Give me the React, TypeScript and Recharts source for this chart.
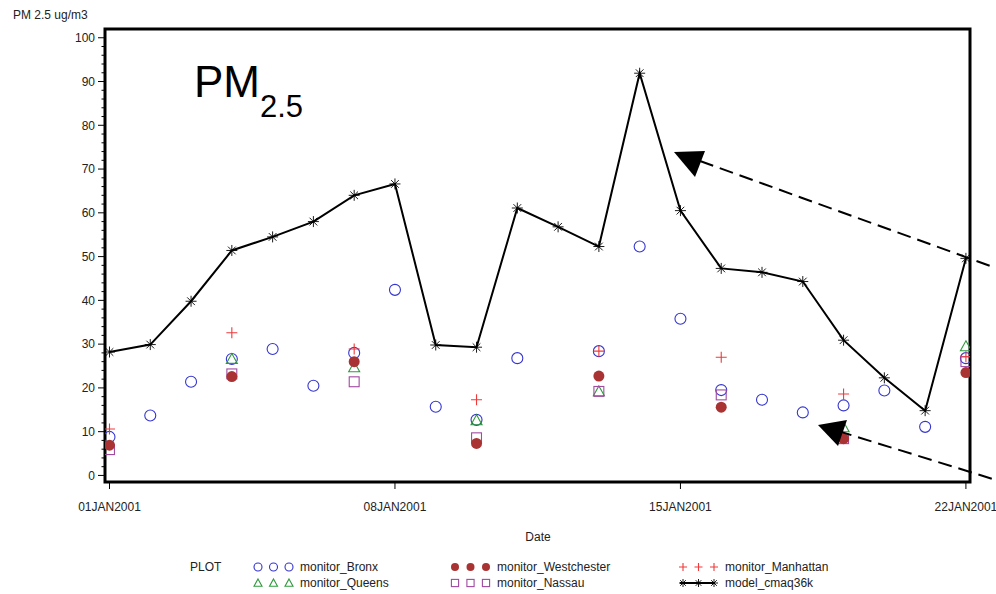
import React from 'react';
import {
  ComposedChart,
  Line,
  Scatter,
  XAxis,
  YAxis,
  ReferenceArea,
} from 'recharts';

// days of January 2001
const days = [1, 2, 3, 4, 5, 6, 7, 8, 9, 10, 11, 12, 13, 14, 15, 16, 17, 18, 19, 20, 21, 22];

const modelCmaq36k = [
  28.2, 29.9, 39.8, 51.4, 54.5, 58, 64, 66.6, 29.8, 29.3, 61.1,
  56.8, 52.3, 91.9, 60.5, 47.3, 46.4, 44.3, 30.9, 22.3, 14.8, 49.6,
];

const monitorBronx = [
  8.8, 13.7, 21.4, 26.6, 28.9, 20.5, 28, 42.4, 15.7, 12.7, 26.8,
  null, 28.4, 52.3, 35.8, 19.5, 17.3, 14.4, 16, 19.4, 11.1, 26.8,
];

// the other monitors report every third day
const monitorDays = [1, 4, 7, 10, 13, 16, 19, 22];
const monitorWestchester = [6.9, 22.6, 26, 7.3, 22.7, 15.6, 8.4, 23.5];
const monitorManhattan = [10.6, 32.6, 28.9, 17.3, 28.4, 27, 18.6, 27.1];
const monitorQueens = [null, 26.6, 24.7, 12.6, 19.2, null, 11, 29.5];
const monitorNassau = [5.9, 23.2, 21.4, 8.6, 19.2, 18.4, 8.4, 26];

const dateTicks = [1, 8, 15, 22];
const dateLabels = ['01JAN2001', '08JAN2001', '15JAN2001', '22JAN2001'];
const pmMajorTicks = [0, 10, 20, 30, 40, 50, 60, 70, 80, 90, 100];
const pmTicks = pmMajorTicks.flatMap((v) => (v < 100 ? [v, v + 2, v + 4, v + 6, v + 8] : [v]));

const X_DOMAIN: [number, number] = [0.89, 22.1];
const Y_DOMAIN: [number, number] = [-1.5, 102];

const FONT = '"Liberation Sans", Arial, Helvetica, sans-serif';
const BLUE = '#3535d0';
const GREEN = '#2f9a3c';
const DARKRED = '#a93333';
const RED = '#f03a3a';
const PURPLE = '#a04aa0';

const toPoints = (xs: number[], ys: (number | null)[]) =>
  xs
    .map((day, i) => ({ day, pm: ys[i] }))
    .filter((p) => p.pm !== null);

const modelData = toPoints(days, modelCmaq36k);
const bronxData = toPoints(days, monitorBronx);
const westchesterData = toPoints(monitorDays, monitorWestchester);
const manhattanData = toPoints(monitorDays, monitorManhattan);
const queensData = toPoints(monitorDays, monitorQueens);
const nassauData = toPoints(monitorDays, monitorNassau);

type Mark = 'circle' | 'dot' | 'plus' | 'triangle' | 'square' | 'star';

function Marker({ kind, cx, cy, color, s = 5.5 }: { kind: Mark; cx: number; cy: number; color: string; s?: number }) {
  switch (kind) {
    case 'circle':
      return <circle cx={cx} cy={cy} r={s} fill="none" stroke={color} strokeWidth={1.1} />;
    case 'dot':
      return <circle cx={cx} cy={cy} r={s} fill={color} stroke="none" />;
    case 'plus':
      return (
        <path
          d={`M${cx - s},${cy}H${cx + s}M${cx},${cy - s}V${cy + s}`}
          stroke={color}
          strokeWidth={1.1}
          fill="none"
        />
      );
    case 'triangle':
      return (
        <path
          d={`M${cx},${cy - s}L${cx + s},${cy + s * 0.8}L${cx - s},${cy + s * 0.8}Z`}
          stroke={color}
          strokeWidth={1.1}
          fill="none"
        />
      );
    case 'square':
      return (
        <rect x={cx - s * 0.9} y={cy - s * 0.9} width={s * 1.8} height={s * 1.8} stroke={color} strokeWidth={1.1} fill="none" />
      );
    default: {
      const d = s * 0.7;
      return (
        <path
          d={`M${cx},${cy - s}V${cy + s}M${cx - d},${cy - d}L${cx + d},${cy + d}M${cx + d},${cy - d}L${cx - d},${cy + d}M${cx - s},${cy}H${cx + s}`}
          stroke={color}
          strokeWidth={0.9}
          fill="none"
        />
      );
    }
  }
}

const shapeOf = (kind: Mark, color: string) => (props: any) =>
  <Marker kind={kind} cx={props.cx} cy={props.cy} color={color} />;

function PmTick({ x, y, payload }: any) {
  const major = payload.value % 10 === 0;
  return (
    <g>
      <line x1={x - (major ? 7 : 3.5)} x2={x} y1={y} y2={y} stroke="#000" strokeWidth={1} />
      {major && (
        <text x={x - 10} y={y} dy="0.36em" textAnchor="end" fontSize={12} fontFamily={FONT} fill="#222">
          {payload.value}
        </text>
      )}
    </g>
  );
}

const legendRows = [
  [
    { kind: 'circle' as Mark, color: BLUE, label: 'monitor_Bronx', x: 258 },
    { kind: 'dot' as Mark, color: DARKRED, label: 'monitor_Westchester', x: 455 },
    { kind: 'plus' as Mark, color: RED, label: 'monitor_Manhattan', x: 683 },
  ],
  [
    { kind: 'triangle' as Mark, color: GREEN, label: 'monitor_Queens', x: 258 },
    { kind: 'square' as Mark, color: PURPLE, label: 'monitor_Nassau', x: 455 },
    { kind: 'star' as Mark, color: '#000', label: 'model_cmaq36k', x: 683 },
  ],
];

function Overlay() {
  const rowY = [567, 583];
  return (
    <svg width={996} height={594} style={{ position: 'absolute', left: 0, top: 0, pointerEvents: 'none' }}>
      <text x={13} y={19} fontSize={12} fontFamily={FONT} fill="#222">PM 2.5 ug/m3</text>
      <text x={194} y={97} fontSize={44} fontFamily={FONT} fill="#000">
        PM<tspan fontSize={31} dy={20}>2.5</tspan>
      </text>
      <text x={538} y={541} fontSize={12} fontFamily={FONT} fill="#222" textAnchor="middle">Date</text>

      <text x={190} y={rowY[0] + 4} fontSize={12} fontFamily={FONT} fill="#222">PLOT</text>
      {legendRows.map((row, r) =>
        row.map((item) => (
          <g key={item.label}>
            {item.kind === 'star' && (
              <line x1={item.x - 3} x2={item.x + 32} y1={rowY[r]} y2={rowY[r]} stroke="#000" strokeWidth={2} />
            )}
            {[0, 15.5, 31].map((dx) => (
              <Marker key={dx} kind={item.kind} cx={item.x + dx} cy={rowY[r]} color={item.color} s={4} />
            ))}
            <text x={item.x + 42} y={rowY[r] + 4} fontSize={12} fontFamily={FONT} fill="#222">
              {item.label}
            </text>
          </g>
        )),
      )}

      <line x1={700} y1={161} x2={996} y2={268} stroke="#000" strokeWidth={2} strokeDasharray="14 7" />
      <path d="M674,152L705,151L695,177Z" fill="#000" />
      <line x1={838} y1={431} x2={996} y2={480} stroke="#000" strokeWidth={2} strokeDasharray="14 7" />
      <path d="M818,425L847,420L838,446Z" fill="#000" />
    </svg>
  );
}

export default function App() {
  return (
    <div style={{ position: 'absolute', left: 0, top: 0, width: 996, height: 594, background: '#fff' }}>
      <ComposedChart width={996} height={594} margin={{ top: 29, right: 26, bottom: 0, left: 0 }}>
        <XAxis
          type="number"
          dataKey="day"
          domain={X_DOMAIN}
          allowDataOverflow
          ticks={dateTicks}
          interval={0}
          tickFormatter={(v: number) => dateLabels[dateTicks.indexOf(v)]}
          axisLine={false}
          tickLine={{ stroke: '#000' }}
          tickSize={7}
          tickMargin={13}
          height={112}
          tick={{ fontSize: 12, fontFamily: FONT, fill: '#222' }}
        />
        <YAxis
          type="number"
          domain={Y_DOMAIN}
          allowDataOverflow
          ticks={pmTicks}
          interval={0}
          axisLine={false}
          tickLine={false}
          tickSize={0}
          tickMargin={0}
          width={105}
          tick={<PmTick />}
        />
        <ReferenceArea
          x1={X_DOMAIN[0]}
          x2={X_DOMAIN[1]}
          y1={Y_DOMAIN[0]}
          y2={Y_DOMAIN[1]}
          fill="none"
          stroke="#000"
          strokeWidth={3}
          ifOverflow="visible"
        />
        <Line
          data={modelData}
          dataKey="pm"
          stroke="#000"
          strokeWidth={2}
          isAnimationActive={false}
          dot={(p: any) => <Marker key={p.index} kind="star" cx={p.cx} cy={p.cy} color="#000" />}
          activeDot={false}
        />
        <Scatter data={bronxData} dataKey="pm" shape={shapeOf('circle', BLUE)} isAnimationActive={false} />
        <Scatter data={queensData} dataKey="pm" shape={shapeOf('triangle', GREEN)} isAnimationActive={false} />
        <Scatter data={nassauData} dataKey="pm" shape={shapeOf('square', PURPLE)} isAnimationActive={false} />
        <Scatter data={westchesterData} dataKey="pm" shape={shapeOf('dot', DARKRED)} isAnimationActive={false} />
        <Scatter data={manhattanData} dataKey="pm" shape={shapeOf('plus', RED)} isAnimationActive={false} />
      </ComposedChart>
      <Overlay />
    </div>
  );
}
